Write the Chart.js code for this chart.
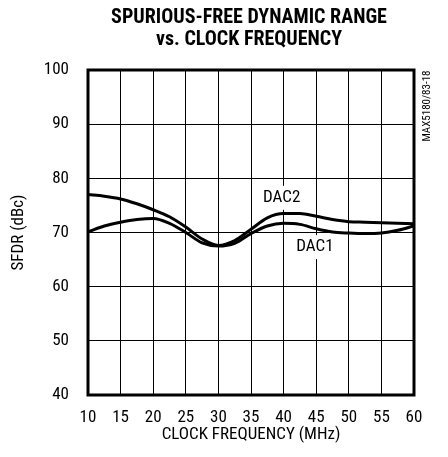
<!DOCTYPE html>
<html>
<head>
<meta charset="utf-8">
<script src="https://cdn.jsdelivr.net/npm/chart.js@4.4.1/dist/chart.umd.min.js"></script>
<style>
  html, body { margin: 0; padding: 0; background: #fff; }
  #wrap { width: 448px; height: 457px; position: relative; }
</style>
</head>
<body>
<div id="wrap"><canvas id="sfdr-chart"></canvas></div>
<script>
// Chart data
const clockMHz = [10, 12.5, 15, 17.5, 20, 22.5, 25, 27.5, 30, 32.5, 35, 37.5, 40, 42.5, 45, 47.5, 50, 52.5, 55, 57.5, 60];
const dac1Sfdr = [70.1, 71.2, 71.9, 72.4, 72.6, 71.7, 70.0, 68.1, 67.5, 68.0, 69.8, 71.2, 71.7, 71.5, 70.7, 70.1, 69.9, 69.8, 69.9, 70.4, 71.2];
const dac2Sfdr = [77.0, 76.7, 76.2, 75.3, 74.2, 72.9, 71.0, 68.8, 67.6, 68.5, 70.6, 72.7, 73.5, 73.5, 73.0, 72.4, 72.0, 71.9, 71.8, 71.7, 71.6];
const xTicks = [10, 15, 20, 25, 30, 35, 40, 45, 50, 55, 60];
const yTicks = [40, 50, 60, 70, 80, 90, 100];
const titleLines = ['SPURIOUS-FREE DYNAMIC RANGE', 'vs. CLOCK FREQUENCY'];
const seriesLabels = ['DAC1', 'DAC2'];
const labelSpots = [[44.8, 67.3], [39.7, 76.4]]; // data coords of curve labels
const partNote = 'MAX5180/83-18';

const FONT = '"Roboto Condensed", "Liberation Sans", sans-serif';

const toPoints = ys => clockMHz.map((x, i) => ({ x: x, y: ys[i] }));

// Extra drawing: title, frame, curve labels, part number
const decorations = {
  id: 'decorations',
  beforeDatasetsDraw(chart) {
    // white patches so grid lines stop at the curve labels
    const { ctx, scales } = chart;
    ctx.save();
    ctx.font = '17px ' + FONT;
    ctx.fillStyle = '#fff';
    seriesLabels.forEach((txt, i) => {
      const px = scales.x.getPixelForValue(labelSpots[i][0]);
      const py = scales.y.getPixelForValue(labelSpots[i][1]);
      const w = ctx.measureText(txt).width;
      ctx.fillRect(px - w / 2 - 3, py - 12, w + 6, 24);
    });
    ctx.restore();
  },
  afterDraw(chart) {
    const { ctx, chartArea, scales } = chart;
    ctx.save();
    // frame
    ctx.strokeStyle = '#000';
    ctx.lineWidth = 3;
    ctx.strokeRect(chartArea.left, chartArea.top, chartArea.right - chartArea.left, chartArea.bottom - chartArea.top);

    // curve labels
    ctx.fillStyle = '#000';
    ctx.font = '17px ' + FONT;
    ctx.textAlign = 'center';
    ctx.textBaseline = 'middle';
    seriesLabels.forEach((txt, i) => {
      ctx.fillText(txt, scales.x.getPixelForValue(labelSpots[i][0]), scales.y.getPixelForValue(labelSpots[i][1]));
    });

    // title
    ctx.font = 'bold 20px ' + FONT;
    ctx.fillText(titleLines[0], 249, 18);
    ctx.fillText(titleLines[1], 249, 40);

    // part number on the right side
    ctx.font = '11px ' + FONT;
    ctx.translate(427, 106);
    ctx.rotate(-Math.PI / 2);
    ctx.fillText(partNote, 0, 0);
    ctx.restore();
  }
};

const ctx = document.getElementById('sfdr-chart');
ctx.chart = new Chart(ctx, {
  type: 'line',
  data: {
    datasets: [
      { label: seriesLabels[0], data: toPoints(dac1Sfdr) },
      { label: seriesLabels[1], data: toPoints(dac2Sfdr) }
    ]
  },
  options: {
    responsive: true,
    maintainAspectRatio: false,
    animation: false,
    layout: { padding: { top: 70, right: 34, left: 0, bottom: 0 } },
    elements: {
      line: { borderColor: '#000', borderWidth: 3, cubicInterpolationMode: 'monotone', fill: false },
      point: { radius: 0 }
    },
    plugins: {
      legend: { display: false },
      tooltip: { enabled: false }
    },
    scales: {
      x: {
        type: 'linear',
        min: 10,
        max: 60,
        afterFit: s => { s.height = 62; },
        afterBuildTicks: s => { s.ticks = xTicks.map(v => ({ value: v })); },
        grid: { color: '#000', lineWidth: 1, drawTicks: false },
        border: { display: false },
        ticks: { color: '#000', padding: 13, maxRotation: 0, font: { family: FONT, size: 17 } },
        title: {
          display: true,
          text: 'CLOCK FREQUENCY (MHz)',
          color: '#000',
          padding: { top: 0, bottom: 12 },
          font: { family: FONT, size: 17 }
        }
      },
      y: {
        min: 40,
        max: 100,
        afterFit: s => { s.width = 88; },
        afterBuildTicks: s => { s.ticks = yTicks.map(v => ({ value: v })); },
        grid: { color: '#000', lineWidth: 1, drawTicks: false },
        border: { display: false },
        ticks: { color: '#000', padding: 19, font: { family: FONT, size: 17 } },
        title: {
          display: true,
          text: 'SFDR (dBc)',
          color: '#000',
          padding: { top: 9, bottom: 0 },
          font: { family: FONT, size: 17 }
        }
      }
    }
  },
  plugins: [decorations]
});
</script>
</body>
</html>
